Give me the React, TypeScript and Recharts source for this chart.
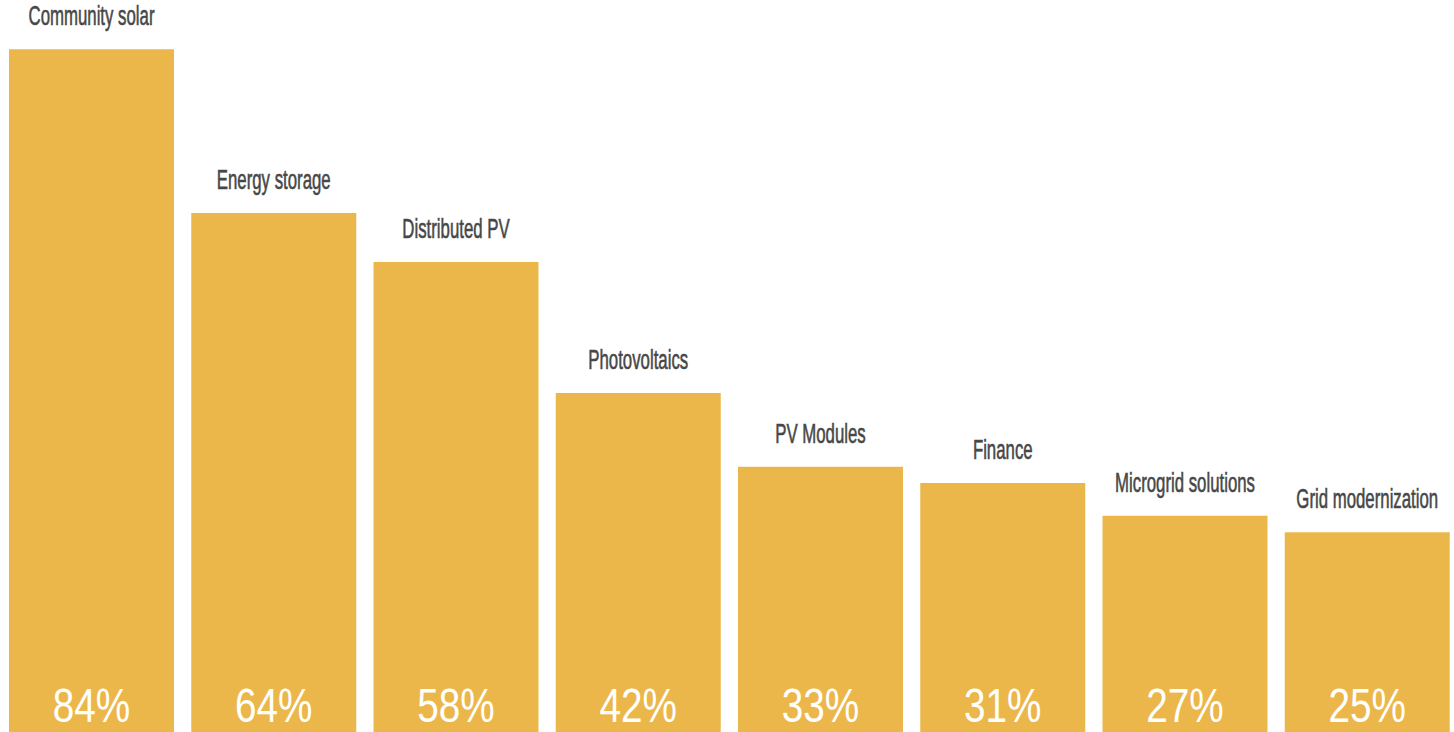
import { BarChart, Bar, XAxis, YAxis, LabelList } from 'recharts';

const categories = [
  'Community solar',
  'Energy storage',
  'Distributed PV',
  'Photovoltaics',
  'PV Modules',
  'Finance',
  'Microgrid solutions',
  'Grid modernization',
];

const shares = [84, 64, 58, 42, 33, 31, 27, 25];

const data = categories.map((name, i) => ({ name, share: shares[i] }));

const BAR_COLOR = '#ECB74A';

// category name sits above the bar, in a squeezed sans
const NameLabel = (props: any) => {
  const { x, y, width, value } = props;
  const cx = x + width / 2;
  return (
    <text
      transform={`translate(${cx},${y - 24}) scale(0.6,1)`}
      textAnchor="middle"
      fill="#474747"
      stroke="#474747"
      strokeWidth={0.6}
      fontSize={28}
      fontFamily="Liberation Sans, Arial, sans-serif"
    >
      {value}
    </text>
  );
};

// percentage in white at the foot of the bar
const ValueLabel = (props: any) => {
  const { x, y, width, height, value } = props;
  const cx = x + width / 2;
  return (
    <text
      transform={`translate(${cx},${y + height - 10}) scale(0.79,1)`}
      textAnchor="middle"
      fill="#ffffff"
      fontSize={49}
      fontFamily="Liberation Sans, Arial, sans-serif"
    >
      {`${value}%`}
    </text>
  );
};

function App() {
  return (
    <div
      style={{
        position: 'absolute',
        left: 0,
        top: 0,
        width: 1454,
        height: 732,
        overflow: 'hidden',
        background: '#fff',
      }}
    >
      <BarChart
        width={1458}
        height={732}
        data={data}
        margin={{ top: 0, right: 0, bottom: 0, left: 0 }}
        barSize={165}
      >
        <XAxis dataKey="name" hide />
        <YAxis hide domain={[0.6, 90]} allowDataOverflow />
        <Bar dataKey="share" fill={BAR_COLOR} isAnimationActive={false}>
          <LabelList dataKey="name" content={NameLabel} />
          <LabelList dataKey="share" content={ValueLabel} />
        </Bar>
      </BarChart>
    </div>
  );
}

export default App;
